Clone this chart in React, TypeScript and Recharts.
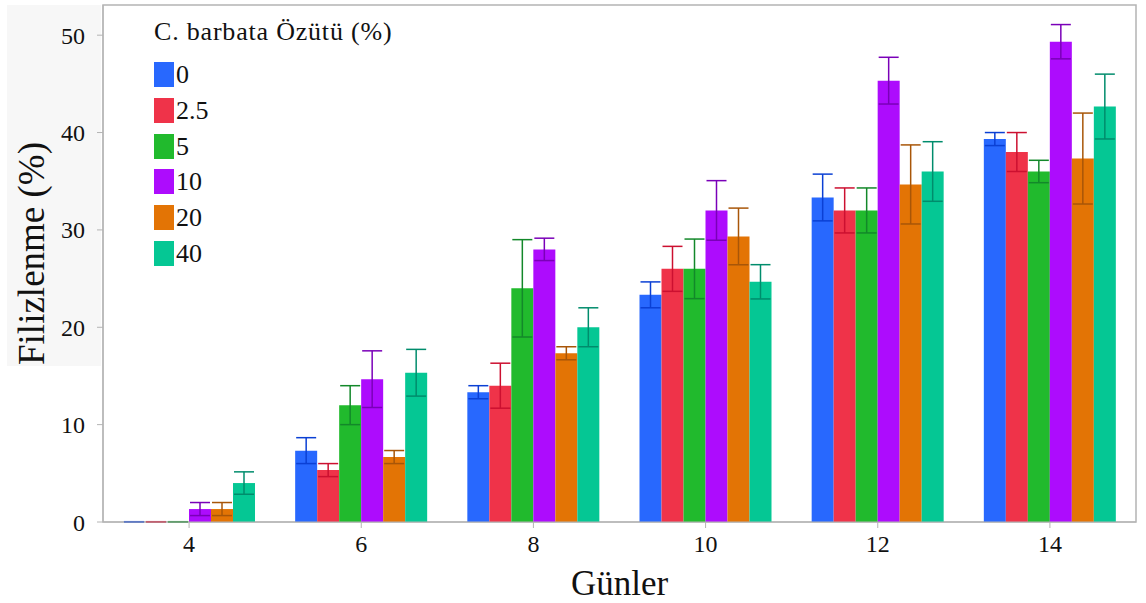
import React from "react";
import { Bar, BarChart, ErrorBar, Label, ReferenceArea, XAxis, YAxis } from "recharts";

const days = ["4", "6", "8", "10", "12", "14"];
const doses = ["0", "2.5", "5", "10", "20", "40"];

// mean germination (%) per dose, one value per day
// (day 4 "zeros" kept a hair above 0 so the flat error caps get drawn)
const mean0 = [0.02, 7.33, 13.33, 23.33, 33.33, 39.33];
const mean2_5 = [0.02, 5.33, 14, 26, 32, 38];
const mean5 = [0.02, 12, 24, 26, 32, 36];
const mean10 = [1.33, 14.67, 28, 32, 45.33, 49.33];
const mean20 = [1.33, 6.67, 17.33, 29.33, 34.67, 37.33];
const mean40 = [4, 15.33, 20, 24.67, 36, 42.67];

// standard errors
const err0 = [0.01, 1.33, 0.67, 1.33, 2.4, 0.67];
const err2_5 = [0.01, 0.67, 2.31, 2.31, 2.31, 2];
const err5 = [0.01, 2, 5, 3.06, 2.31, 1.15];
const err10 = [0.67, 2.91, 1.15, 3.06, 2.4, 1.76];
const err20 = [0.67, 0.67, 0.67, 2.91, 4.06, 4.67];
const err40 = [1.15, 2.4, 2, 1.76, 3.06, 3.33];

const barColors = ["#2868fe", "#ef3349", "#21ba2d", "#ad0cfd", "#e37405", "#05c794"];
const errColors = ["#0b40d4", "#cc1030", "#13882a", "#7a00b8", "#a85608", "#008c6c"];

const means = [mean0, mean2_5, mean5, mean10, mean20, mean40];
const errs = [err0, err2_5, err5, err10, err20, err40];

const data = days.map((d, i) => {
  const row: Record<string, string | number> = { day: d };
  doses.forEach((_, s) => {
    row[`m${s}`] = means[s][i];
    row[`e${s}`] = errs[s][i];
  });
  return row;
});

const FONT = '"Liberation Serif", "Times New Roman", serif';
const AXIS_GREY = "#b4b4b4";
const Y_MAX = 53.1;

function DoseLegend() {
  return (
    <div style={{ position: "absolute", left: 154, top: 19, fontFamily: FONT, color: "#111" }}>
      <div style={{ fontSize: 26, lineHeight: "26px", letterSpacing: 0.8, marginBottom: 12, whiteSpace: "nowrap" }}>
        C. barbata Özütü (%)
      </div>
      {doses.map((d, i) => (
        <div key={d} style={{ display: "flex", alignItems: "center", height: 35.7 }}>
          <span style={{ width: 20, height: 25, background: barColors[i], display: "inline-block" }} />
          <span style={{ fontSize: 26, marginLeft: 2, lineHeight: "25px" }}>{d}</span>
        </div>
      ))}
    </div>
  );
}

// rotated y title, sitting a little above the plot's middle like the original
function YTitle({ viewBox }: any) {
  const x = 31;
  const y = viewBox.y + viewBox.height / 2 - 10;
  return (
    <text
      x={x}
      y={y}
      transform={`rotate(-90 ${x} ${y})`}
      textAnchor="middle"
      dominantBaseline="central"
      fill="#111"
      fontSize={37}
      fontFamily={FONT}
    >
      Filizlenme (%)
    </text>
  );
}

export default function App() {
  return (
    <div style={{ position: "relative", width: 1146, height: 603, background: "#fff", fontFamily: FONT }}>
      <style>{`body{margin:0} .recharts-text{font-family:${FONT}}`}</style>
      <div style={{ position: "absolute", left: 7, top: 5, width: 94, height: 361, background: "#f7f7f7" }} />
      <div style={{ position: "absolute", left: 0, top: 0 }}>
        <BarChart
          width={1146}
          height={603}
          data={data}
          margin={{ top: 5, right: 10, left: 0, bottom: 0 }}
          barCategoryGap={20}
          barGap={0}
          style={{ fontFamily: FONT }}
        >
          <ReferenceArea y1={0} y2={Y_MAX} fill="none" stroke={AXIS_GREY} strokeWidth={1.5} ifOverflow="visible" />
          <XAxis
            dataKey="day"
            height={81}
            stroke={AXIS_GREY}
            tickSize={6}
            tickMargin={7}
            tick={{ fill: "#111", fontSize: 24 }}
            label={{ value: "Günler", position: "insideBottom", offset: 8, fill: "#111", fontSize: 35 }}
          />
          <YAxis
            width={103}
            domain={[0, Y_MAX]}
            ticks={[0, 10, 20, 30, 40, 50]}
            allowDataOverflow
            stroke={AXIS_GREY}
            tickSize={6}
            tickMargin={12}
            tick={{ fill: "#111", fontSize: 24 }}
          >
            <Label content={YTitle} />
          </YAxis>
          {doses.map((d, s) => (
            <Bar key={d} dataKey={`m${s}`} name={d} fill={barColors[s]} isAnimationActive={false}>
              <ErrorBar dataKey={`e${s}`} width={10} stroke={errColors[s]} strokeWidth={1.5} />
            </Bar>
          ))}
        </BarChart>
      </div>
      <DoseLegend />
    </div>
  );
}
